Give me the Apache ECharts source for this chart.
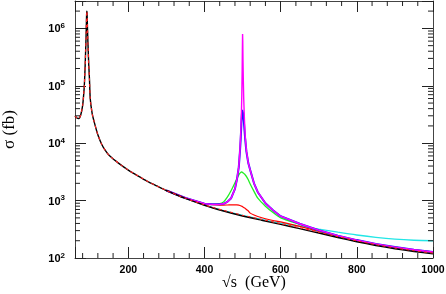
<!DOCTYPE html>
<html><head><meta charset="utf-8">
<script src="https://cdn.jsdelivr.net/npm/echarts@6/dist/echarts.min.js"></script>
<style>html,body{margin:0;padding:0;background:#fff}#c{width:446px;height:294px}</style>
</head><body><div id="c"></div>
<script>
// axis ranges
const X_MIN = 60, X_MAX = 1000, Y_MIN = 100, Y_MAX = 3e6;
const xTickLabels = [200, 400, 600, 800, 1000];
const yTickLabels = [1e2, 1e3, 1e4, 1e5, 1e6];

// base curve (full range)
const baseE = [60,65,70,75,80,84,86,88,89,90,90.5,91,91.5,92,93,94,96,98,100,105,110,120,130,140,150,175,200,225,250,275,300,350,400,450,500,550,600,650,700,750,800,850,900,950,1000];
const blackSigma = [3.0e4,2.75e4,2.7e4,3.1e4,4.5e4,9e4,1.7e5,4.2e5,7e5,1.3e6,1.75e6,2.0e6,1.9e6,1.55e6,9e5,5.5e5,2.4e5,1.3e5,6e4,3.3e4,2.4e4,1.4e4,9.6e3,7.4e3,6.1e3,4.45e3,3.4e3,2.7e3,2.17e3,1.8e3,1.5e3,1090,830,660,540,455,385,325,272,228,192,165,145,130,118];
const redDashSigma = [3.0e4,2.75e4,2.7e4,3.1e4,4.5e4,9e4,1.7e5,4.2e5,7e5,1.3e6,1.75e6,2.0e6,1.9e6,1.55e6,9e5,5.5e5,2.4e5,1.3e5,6e4,3.3e4,2.4e4,1.4e4,9.6e3,7.4e3,6.1e3,4.45e3,3.4e3,2.7e3,2.17e3,1.8e3,1.5e3,1095,840,675,556,470,398,337,282,236,199,171,150,134,122];

// resonance region
const resE = [300,350,400,420,440,450,460,470,480,485,490,493,495,497,498,499,499.5,500,500.5,501,502,503,505,507,510,515,520,530,540,560,580,600,650,700,750,800,850,900,950,1000];
const magentaSigma = [1500,1110,880,860,865,880,950,1100,1600,2300,3900,7500,1.4e4,3.5e4,7e4,2e5,4.5e5,8e5,6e5,3e5,1.2e5,6e4,2.5e4,1.3e4,7.5e3,4.5e3,3.4e3,2.0e3,1400,900,680,535,395,305,245,205,176,155,139,127];
const blueSigma = [1500,1110,880,860,865,880,950,1100,1600,2300,3800,7000,1.15e4,2.3e4,3.0e4,3.8e4,4.1e4,4.2e4,4.1e4,3.8e4,3.2e4,2.6e4,1.7e4,1.15e4,7.2e3,4.5e3,3.4e3,2.0e3,1400,900,680,535,395,305,245,205,176,155,139,127];
const greenSigma = [1500,1110,880,860,885,950,1150,1500,2050,2400,2800,3000,3100,3150,3150,3130,3120,3100,3080,3060,3020,2980,2900,2800,2650,2300,1950,1450,1100,800,620,500,385,300,243,204,175,154,138,127];
const redSigma = [1505,1115,885,850,835,835,838,842,845,842,832,822,812,802,797,792,789,786,781,776,769,761,746,731,700,660,605,560,528,482,450,425,355,290,238,200,172,150,136,124];
const cyanE = [350,400,450,500,550,600,650,700,750,800,850,900,950,1000];
const cyanSigma = [1090,835,668,552,470,405,360,318,282,252,229,213,204,200];

function pairs(xs, ys) { return xs.map((x, i) => [x, ys[i]]); }

// minor tick positions (axis decoration)
const xMinor = [];
for (let v = 80; v < X_MAX; v += 40) if (v % 200 !== 0) xMinor.push(v);
const yMinor = [];
for (let d = 100; d < Y_MAX; d *= 10) for (let m = 2; m <= 9; m++) if (d * m < Y_MAX) yMinor.push(d * m);

const TICK = '#222';
const chart = echarts.init(document.getElementById('c'), null, {renderer: 'canvas'});

function lineSeries(name, data, color, width, z, dash, smooth) {
  return {name, type: 'line', data, showSymbol: false, symbol: 'none', z, clip: true,
    smooth: smooth || false,
    lineStyle: {color, width, type: dash || 'solid'}, emphasis: {disabled: true}};
}

const axisLineStyle = {show: true, lineStyle: {color: '#444', width: 1}};
const tickLabelFont = {fontFamily: 'Liberation Sans', fontWeight: 'bold', fontSize: 10.5, color: '#000'};

chart.setOption({
  animation: false,
  grid: {left: 75, right: 13, top: 1, bottom: 36, containLabel: false, outerBoundsMode: 'none'},
  xAxis: [{
    type: 'value', min: X_MIN, max: X_MAX, position: 'bottom',
    axisLine: axisLineStyle, splitLine: {show: false},
    axisTick: {show: true, inside: true, length: 11, lineStyle: {color: TICK}},
    axisLabel: Object.assign({margin: 7, formatter: v => xTickLabels.includes(v) ? String(v) : ''}, tickLabelFont),
    name: '\u221As  (GeV)', nameLocation: 'middle', nameGap: 17, nameMoveOverlap: false,
    nameTextStyle: {fontFamily: 'Liberation Serif', fontSize: 16, color: '#000'}
  }, {
    type: 'value', min: X_MIN, max: X_MAX, position: 'top',
    axisLine: axisLineStyle, splitLine: {show: false},
    axisTick: {show: true, inside: true, length: 11, lineStyle: {color: TICK}},
    axisLabel: {show: false}
  }],
  yAxis: [{
    type: 'log', logBase: 10, min: Y_MIN, max: Y_MAX, position: 'left',
    axisLine: axisLineStyle, splitLine: {show: false},
    axisTick: {show: true, inside: true, length: 11, lineStyle: {color: TICK}},
    axisLabel: {
      margin: 10,
      formatter: v => {
        const e = Math.round(Math.log10(v));
        if (!yTickLabels.some(t => Math.abs(t - v) / t < 1e-6)) return '';
        return '{b|10}{s|' + e + '}';
      },
      rich: {
        b: {fontFamily: 'Liberation Sans', fontWeight: 'bold', fontSize: 11, color: '#000', verticalAlign: 'bottom', lineHeight: 13},
        s: {fontFamily: 'Liberation Sans', fontWeight: 'bold', fontSize: 8, color: '#000', verticalAlign: 'bottom', padding: [0, 0, 5, 0], lineHeight: 13}
      }
    },
    name: '\u03C3 (fb)', nameLocation: 'middle', nameGap: 57, nameRotate: 90, nameMoveOverlap: false,
    nameTextStyle: {fontFamily: 'Liberation Serif', fontSize: 17, color: '#000'}
  }, {
    type: 'log', logBase: 10, min: Y_MIN, max: Y_MAX, position: 'right',
    axisLine: axisLineStyle, splitLine: {show: false},
    axisTick: {show: true, inside: true, length: 11, lineStyle: {color: TICK}},
    axisLabel: {show: false}
  }],
  series: [
    lineSeries('cyan', pairs(cyanE, cyanSigma), '#22e6e6', 1.4, 2, null, 0.3),
    lineSeries('red', pairs(resE, redSigma), '#ff0000', 1.2, 3, null, 0.2),
    lineSeries('green', pairs(resE, greenSigma), '#22ee22', 1.3, 4, null, 0.2),
    lineSeries('blue', pairs(resE, blueSigma), '#1a1aff', 2.0, 5),
    lineSeries('magenta', pairs(resE, magentaSigma), '#ff00ff', 1.4, 6),
    lineSeries('black', pairs(baseE, blackSigma), '#000000', 1.4, 7, null, 0.2),
    lineSeries('redDash', pairs(baseE, redDashSigma), '#ff2020', 1.1, 8, [3, 3], 0.2),
    {
      type: 'custom', z: 10, silent: true, clip: false,
      data: xMinor.map(v => [v, Y_MIN]), encode: {x: 0, y: 1},
      renderItem: (params, api) => {
        const v = api.value(0);
        const b = api.coord([v, Y_MIN]), t = api.coord([v, Y_MAX]);
        return {type: 'group', children: [
          {type: 'line', shape: {x1: b[0], y1: b[1], x2: b[0], y2: b[1] - 5}, style: {stroke: TICK, lineWidth: 1}},
          {type: 'line', shape: {x1: t[0], y1: t[1], x2: t[0], y2: t[1] + 5}, style: {stroke: TICK, lineWidth: 1}}
        ]};
      }
    },
    {
      type: 'custom', z: 10, silent: true, clip: false,
      data: yMinor.map(v => [X_MIN, v]), encode: {x: 0, y: 1},
      renderItem: (params, api) => {
        const v = api.value(1);
        const l = api.coord([X_MIN, v]), r = api.coord([X_MAX, v]);
        return {type: 'group', children: [
          {type: 'line', shape: {x1: l[0], y1: l[1], x2: l[0] + 5, y2: l[1]}, style: {stroke: TICK, lineWidth: 1}},
          {type: 'line', shape: {x1: r[0], y1: r[1], x2: r[0] - 5, y2: r[1]}, style: {stroke: TICK, lineWidth: 1}}
        ]};
      }
    }
  ]
});
</script></body></html>
